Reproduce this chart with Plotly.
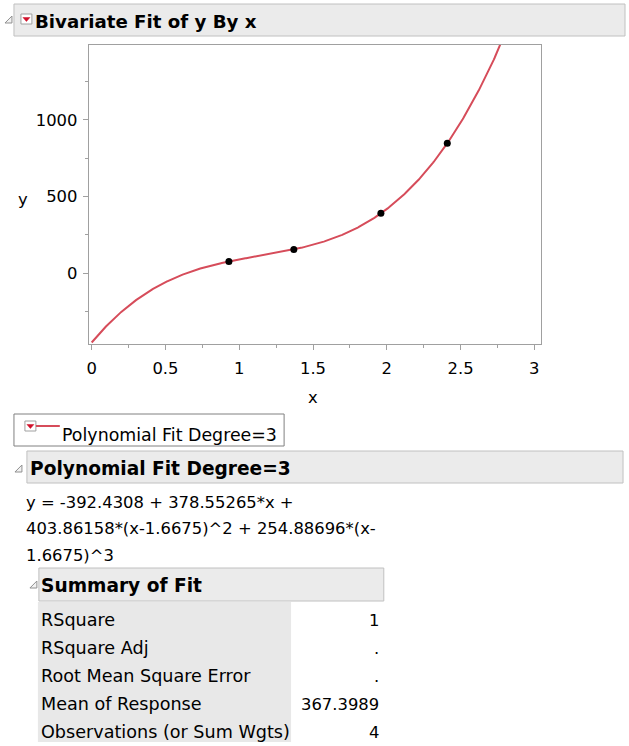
import numpy as np
import plotly.graph_objects as go

W, H = 629, 746

# ---- data ----
x_obs = [0.93, 1.37, 1.96, 2.41]
y_obs = [77.0, 155.2, 390.5, 846.9]
# fit: y = b0 + b1*x + b2*(x-c)^2 + b3*(x-c)^3
fit_coefs = [-392.4308, 378.55265, 403.86158, 254.88696]
fit_center = 1.6675
x_ticks = [0, 0.5, 1, 1.5, 2, 2.5, 3]
x_tick_labels = ["0", "0.5", "1", "1.5", "2", "2.5", "3"]
y_ticks = [0, 500, 1000]
y_tick_labels = ["0", "500", "1000"]
equation_lines = ["y = -392.4308 + 378.55265*x +",
                  "403.86158*(x-1.6675)^2 + 254.88696*(x-",
                  "1.6675)^3"]
summary_labels = ["RSquare", "RSquare Adj", "Root Mean Square Error",
                  "Mean of Response", "Observations (or Sum Wgts)"]
summary_values = ["1", ".", ".", "367.3989", "4"]

FONT = "DejaVu Sans"
RED = "rgb(214,76,90)"
FS = 16.4

xc = np.linspace(0, 3.0, 600)
b0, b1, b2, b3 = fit_coefs
yc = b0 + b1 * xc + b2 * (xc - fit_center) ** 2 + b3 * (xc - fit_center) ** 3


def px(x):
    return x / W


def py(y):
    return 1 - y / H


fig = go.Figure()
fig.add_trace(go.Scatter(x=xc, y=yc, mode="lines",
                         line=dict(color=RED, width=2), hoverinfo="skip",
                         showlegend=False))
fig.add_trace(go.Scatter(x=x_obs, y=y_obs, mode="markers",
                         marker=dict(color="black", size=7), showlegend=False))

PL, PR, PT, PB = 87, 541, 45, 344

axis_common = dict(showline=True, linecolor="#A0A0A0", linewidth=1, mirror=True,
                   showgrid=False, zeroline=False, ticks="outside", ticklen=5,
                   tickcolor="#A0A0A0", tickfont=dict(family=FONT, size=FS, color="black"))

fig.update_layout(
    width=W, height=H, margin=dict(l=0, r=0, t=0, b=0),
    paper_bgcolor="white", plot_bgcolor="white",
    xaxis=dict(domain=[px(PL), px(PR)], range=[-0.02, 3.047],
               tickvals=x_ticks, ticktext=x_tick_labels, ticklabelstandoff=4,
               minor=dict(tickvals=[0.25, 0.75, 1.25, 1.75, 2.25, 2.75],
                          ticks="outside", ticklen=3, tickcolor="#A0A0A0"),
               **axis_common),
    yaxis=dict(domain=[py(PB), py(PT)], range=[-461, 1488],
               tickvals=y_ticks, ticktext=y_tick_labels, ticklabelstandoff=2,
               minor=dict(tickvals=[-250, 250, 750, 1250],
                          ticks="outside", ticklen=3, tickcolor="#A0A0A0"),
               **axis_common),
    showlegend=False,
)

shapes = []
annotations = []


def rect(x0, y0, x1, y1, fill, line, lw=1):
    shapes.append(dict(type="rect", xref="paper", yref="paper",
                       x0=px(x0), x1=px(x1), y0=py(y1), y1=py(y0),
                       fillcolor=fill, line=dict(color=line, width=lw), layer="below"))


def text(x, y, s, size=FS, bold=False, anchor="left", color="black"):
    annotations.append(dict(xref="paper", yref="paper", x=px(x), y=py(y),
                            text=("<b>%s</b>" % s) if bold else s, showarrow=False,
                            xanchor=anchor, yanchor="middle",
                            font=dict(family=FONT, size=size, color=color)))


def disclosure(x, y):
    # small gray triangle icon
    path = "M %f %f L %f %f L %f %f Z" % (px(x), py(y + 4), px(x + 7), py(y - 3), px(x + 7), py(y + 4))
    shapes.append(dict(type="path", xref="paper", yref="paper", path=path,
                       fillcolor="#F2F2F2", line=dict(color="#909090", width=1)))


def dropdown(x0, y0, x1, y1):
    shapes.append(dict(type="rect", xref="paper", yref="paper",
                       x0=px(x0), x1=px(x1), y0=py(y1), y1=py(y0),
                       fillcolor="white", line=dict(color="#A0A0A0", width=1)))
    cx = (x0 + x1) / 2
    cy = (y0 + y1) / 2
    path = "M %f %f L %f %f L %f %f Z" % (px(cx - 3.5), py(cy - 1.5), px(cx + 3.5), py(cy - 1.5), px(cx), py(cy + 2.5))
    shapes.append(dict(type="path", xref="paper", yref="paper", path=path,
                       fillcolor="#D0102A", line=dict(color="#D0102A", width=0.5)))


# Header 1
rect(12, 4, 625, 36, "#EBEBEB", "#C0C0C0")
disclosure(3, 19)
dropdown(19, 14, 30, 24)
text(31, 21, "Bivariate Fit of y By x", size=18.2, bold=True)

# Axis titles
text(21, 200, "y", anchor="center")
text(312, 397, "x", anchor="center")

# Legend box
rect(12, 414, 283, 446, "white", "#808080")
dropdown(23, 421, 34, 431)
shapes.append(dict(type="line", xref="paper", yref="paper",
                   x0=px(34), x1=px(58), y0=py(426), y1=py(426),
                   line=dict(color=RED, width=2)))
text(58, 435, "Polynomial Fit Degree=3", size=17.4)

# Header 2
disclosure(13, 468)
rect(25, 451, 623, 483, "#EBEBEB", "#C0C0C0")
text(26, 468, "Polynomial Fit Degree=3", size=18.6, bold=True)

# Equation
for i, line in enumerate(equation_lines):
    text(22, 502 + i * 26.5, line)

# Summary of Fit
disclosure(28, 584)
rect(37, 568, 383, 601, "#EBEBEB", "#C0C0C0")
text(37, 585, "Summary of Fit", size=18.6, bold=True)
rect(36, 602, 290, 742, "#E8E8E8", "#E8E8E8", lw=0)
for i, (lab, val) in enumerate(zip(summary_labels, summary_values)):
    yy = 620 + i * 28
    text(37, yy, lab, size=17.6)
    text(380, yy, val, anchor="right")

fig.update_layout(shapes=shapes, annotations=annotations)
fig.write_html("out.html", config={"displayModeBar": False},
               post_script="document.body.style.margin='0';")
